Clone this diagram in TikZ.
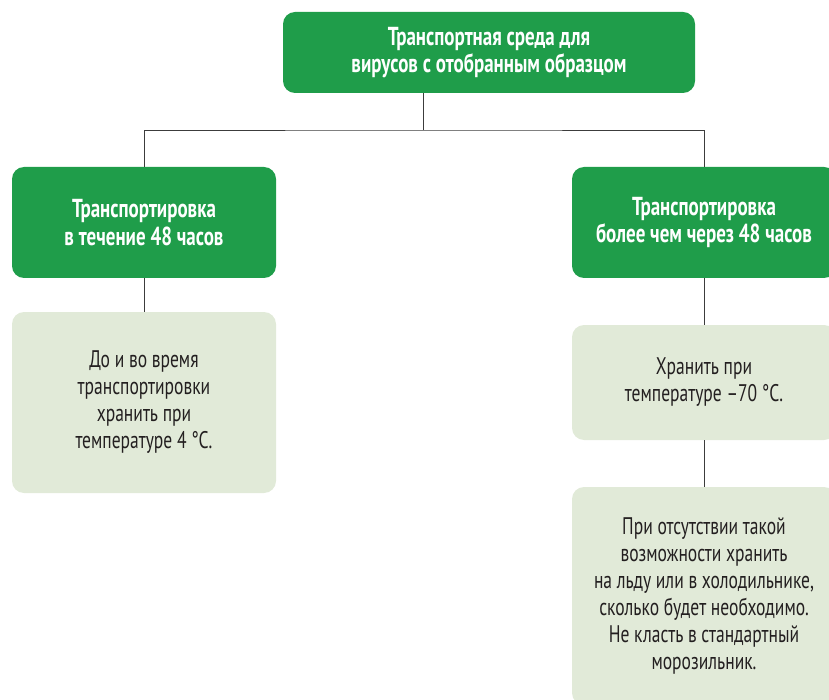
\documentclass[tikz,border=0pt]{standalone}
\usepackage{fontspec}
\setmainfont[FakeStretch=0.73]{PT Sans}
\begin{document}
\begin{tikzpicture}[x=1pt,y=-1pt,
  headbox/.style={rectangle, rounded corners=12pt, fill=boxgreen, text=white,
    font=\fontsize{26}{27.5}\selectfont\bfseries, align=center, inner sep=0pt},
  notebox/.style={rectangle, rounded corners=12pt, fill=boxpale, text=textdark,
    font=\fontsize{24}{27}\selectfont, align=center, inner sep=0pt},
  link/.style={draw=linegray, line width=0.9pt}]
\definecolor{boxgreen}{HTML}{1F9D4A}
\definecolor{boxpale}{HTML}{E1EAD8}
\definecolor{textdark}{HTML}{231F20}
\definecolor{linegray}{HTML}{3C3C3C}
\useasboundingbox (0,0) rectangle (829,700);
\clip (0,0) rectangle (829,700);

% boxes
\node[headbox, minimum width=412pt, minimum height=81pt] (top) at (489,52.5)
  {Транспортная среда для\\вирусов с отобранным образцом};
\node[headbox, minimum width=264pt, minimum height=111pt] (l1) at (144,222.5)
  {Транспортировка\\в течение 48 часов};
\node[notebox, minimum width=264pt, minimum height=181pt] (l2) at (144,402.5)
  {До и во время\\транспортировки\\хранить при\\температуре 4 °C.};
\node[headbox, minimum width=264pt, minimum height=111pt] (r1) at (704,222.5)
  {Транспортировка\\более чем через 48 часов};
\node[notebox, minimum width=264pt, minimum height=115pt] (r2) at (704,382.5)
  {Хранить при\\температуре –70 °C.};
\node[notebox, minimum width=264pt, minimum height=218pt] (r3) at (704,596)
  {При отсутствии такой\\возможности хранить\\на льду или в холодильнике,\\сколько будет необходимо.\\Не класть в стандартный\\морозильник.};

% connectors
\coordinate (hub) at (423,130);
\draw[link] (top.south -| hub) -- (hub);
\draw[link] (l1.north) |- (hub) -| (r1.north);
\draw[link] (l1.south) -- (l2.north);
\draw[link] (r1.south) -- (r2.north);
\draw[link] (r2.south) -- (r3.north);
\end{tikzpicture}
\end{document}
